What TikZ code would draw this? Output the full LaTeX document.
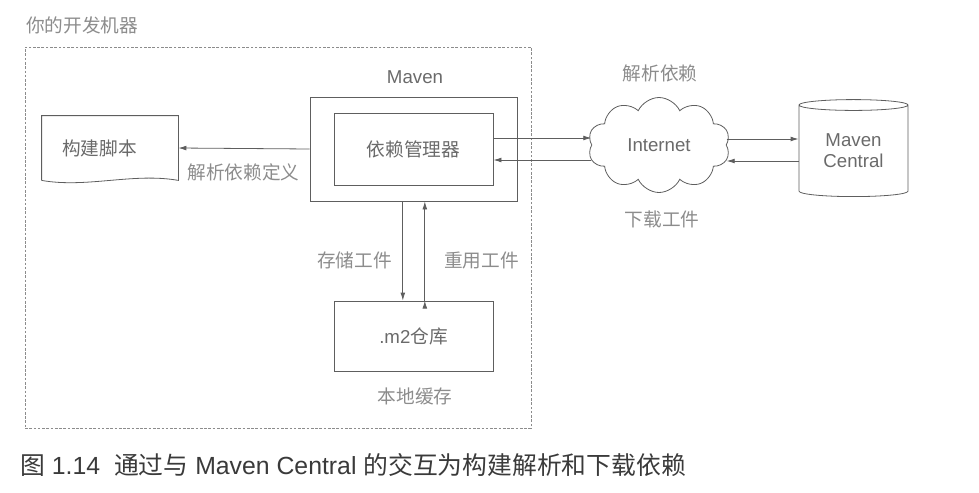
\documentclass[tikz,border=0pt]{standalone}
\usepackage{fontspec}
\setmainfont{Liberation Sans}
\newfontfamily\cjk{Noto Sans CJK SC}
\usepackage{tikz}
\usetikzlibrary{fit,positioning}
\usetikzlibrary{shapes,arrows.meta}
\definecolor{linegray}{HTML}{5E5E5E}
\definecolor{labelgray}{HTML}{8C8C8C}
\definecolor{textgray}{HTML}{6A6A6A}
\definecolor{captiongray}{HTML}{3A3A3A}
\newcommand{\zh}[1]{{\cjk #1}}

\begin{document}
\begin{tikzpicture}[x=0.75pt,y=-0.75pt]
\tikzstyle{box}=[rectangle, draw=linegray, line width=0.6pt, inner sep=0pt, font=\fontsize{14}{16}\selectfont, text=textgray]
\tikzstyle{note}=[inner sep=0pt, font=\fontsize{14}{16}\selectfont, text=labelgray]
\tikzstyle{machine}=[rectangle, draw=labelgray, dashed, dash pattern=on 2pt off 1.2pt, line width=0.5pt]
\tikzstyle{connect}=[-{Latex[length=6pt,width=3.6pt]}, draw=linegray, fill=linegray, line width=0.6pt]
\useasboundingbox (0,0) rectangle (979,493);
	\node[note, anchor=west] (title) at (26,25) {\zh{你的开发机器}};
	\node[machine, minimum width=379.5pt, minimum height=285.75pt] (machine) at (278,237.5) {};

	\node[box, minimum width=155.25pt, minimum height=78pt] (maven) at (413.5,149) {};
	\node[note, text=textgray] (mavenlabel) at (415,77) {Maven};
	\node[box, minimum width=119.25pt, minimum height=54pt] (mgr) at (413.5,149) {\zh{依赖管理器}};
	\node[box, draw=none, minimum width=102pt, minimum height=48pt, text width=72pt, inner xsep=15pt, align=left] (script) at (110,148) {\zh{构建脚本}};
	\draw[linegray, line width=0.6pt] (script.south west) -- (script.north west) -- (script.north east) -- (script.south east)
		.. controls +(-45,-8) and +(45,8) .. (script.south west);
	\node[box, minimum width=119.25pt, minimum height=52.5pt] (m2) at (413.5,336) {.m2\zh{仓库}};

	\node[box, cloud, cloud puffs=10, cloud puff arc=130, cloud ignores aspect, minimum width=106.5pt, minimum height=71.25pt] (net) at (659,145) {Internet};
	\node[box, cylinder, shape border rotate=90, aspect=0.18, minimum width=81.75pt, minimum height=72.75pt, align=center] (central) at (853.5,151) {Maven\\Central};

	\node[note] (resolvedef) at (243.5,172) {\zh{解析依赖定义}};
	\node[note] (resolve) at (660,73) {\zh{解析依赖}};
	\node[note] (download) at (662,219) {\zh{下载工件}};
	\node[note] (store) at (354.5,260) {\zh{存储工件}};
	\node[note] (reuse) at (481.5,260) {\zh{重用工件}};
	\node[note] (cache) at (415,396) {\zh{本地缓存}};

	\path[connect]
		(maven.west) edge [] (script.east)
		([yshift=8.25pt]mgr.east) edge [] ([yshift=8.25pt]mgr.east -| net.west)
		([yshift=-8.25pt]mgr.east -| net.west) edge [] ([yshift=-8.25pt]mgr.east)
		([yshift=9pt]central.west -| net.east) edge [] ([yshift=9pt]central.west)
		([yshift=-7.5pt]central.west) edge [] ([yshift=-7.5pt]central.west -| net.east)
		([xshift=-8pt]maven.south) edge [] ([xshift=-8pt]m2.north)
		([xshift=8.5pt]m2.north) edge [] ([xshift=8.5pt]maven.south);

	\node[inner sep=0pt, anchor=west, text=captiongray, font=\fontsize{18.6}{20}\selectfont] (caption) at (20,465)
		{\zh{图} 1.14\ \ \zh{通过与} Maven Central \zh{的交互为构建解析和下载依赖}};
\end{tikzpicture}
\end{document}
